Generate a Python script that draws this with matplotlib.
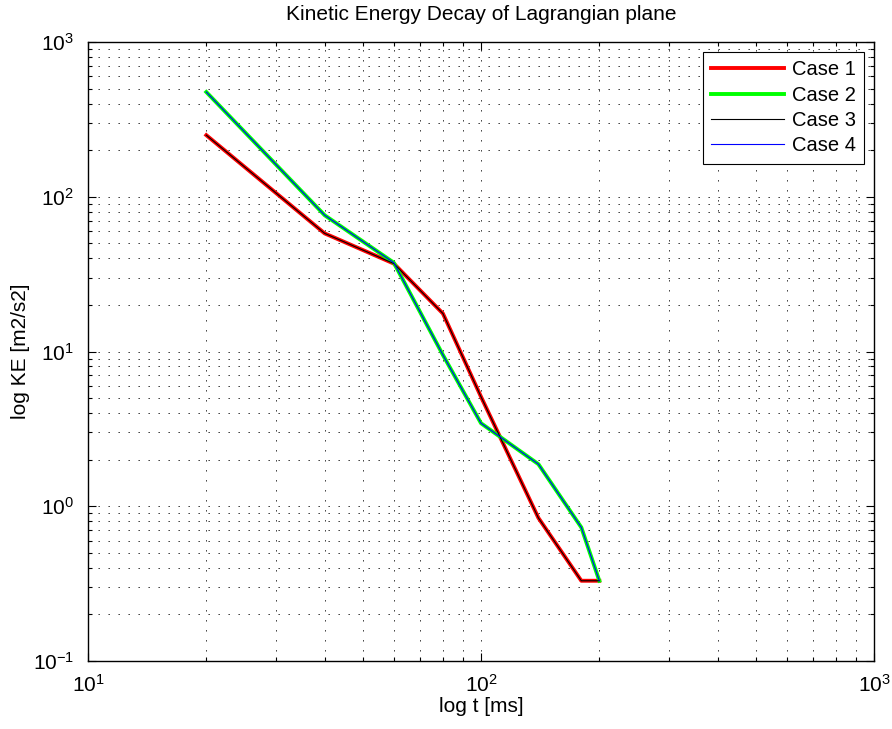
import matplotlib
matplotlib.use("Agg")
import matplotlib.pyplot as plt
import numpy as np
from matplotlib.ticker import LogLocator, NullFormatter

plt.rcParams['font.family'] = ['Liberation Sans', 'DejaVu Sans']
plt.rcParams['mathtext.fontset'] = 'custom'
plt.rcParams['mathtext.rm'] = 'Liberation Sans'
plt.rcParams['mathtext.it'] = 'Liberation Sans:italic'

# Data
t_ms = [20, 40, 60, 80, 100, 140, 180, 200]
ke_case1 = [250, 58, 37, 17.6, 5.1, 0.84, 0.33, 0.33]
ke_case2 = [475, 76, 37.5, 9.5, 3.44, 1.87, 0.73, 0.33]
ke_case3 = ke_case1  # same run, drawn thin on top
ke_case4 = ke_case2

labels = ['Case 1', 'Case 2', 'Case 3', 'Case 4']

fig = plt.figure(figsize=(8.92, 7.29), dpi=100)
ax = fig.add_axes([88 / 892, 68 / 729, 786 / 892, 619 / 729])

ax.plot(t_ms, ke_case1, color='#ff0000', linewidth=2.8, label=labels[0])
ax.plot(t_ms, ke_case2, color='#00ff00', linewidth=2.8, label=labels[1])
ax.plot(t_ms, ke_case3, color='black', linewidth=0.8, label=labels[2])
ax.plot(t_ms, ke_case4, color='#0000ff', linewidth=0.8, label=labels[3])

ax.set_xscale('log')
ax.set_yscale('log')
ax.set_xlim(10, 1000)
ax.set_ylim(0.1, 1000)

ax.xaxis.set_major_locator(LogLocator(base=10, numticks=10))
ax.yaxis.set_major_locator(LogLocator(base=10, numticks=10))
ax.xaxis.set_minor_locator(LogLocator(base=10, subs=np.arange(2, 10), numticks=20))
ax.yaxis.set_minor_locator(LogLocator(base=10, subs=np.arange(2, 10), numticks=20))
ax.xaxis.set_minor_formatter(NullFormatter())
ax.yaxis.set_minor_formatter(NullFormatter())

ax.grid(True, which='both', linestyle=(0, (1.6, 10.4)), color='black', linewidth=0.6)
ax.tick_params(which='both', direction='in', top=True, right=True, labelsize=15, width=0.8)
ax.tick_params(which='major', length=6)
ax.tick_params(which='minor', length=3)
ax.tick_params(axis='x', pad=9)
ax.tick_params(axis='y', pad=10)
for sp in ax.spines.values():
    sp.set_linewidth(1.0)

ax.set_xlabel('log t [ms]', fontsize=15, labelpad=1)
ax.set_ylabel('log KE [m2/s2]', fontsize=15, labelpad=2)
ax.set_title('Kinetic Energy Decay of Lagrangian plane', fontsize=15, pad=16)

leg = ax.legend(loc='upper right', fontsize=14.5, fancybox=False, framealpha=1,
                edgecolor='black', handlelength=3.6, borderaxespad=0.5,
                labelspacing=0.32, handletextpad=0.4, borderpad=0.4)
leg.get_frame().set_linewidth(0.8)

fig.savefig('out.png', dpi=100)
